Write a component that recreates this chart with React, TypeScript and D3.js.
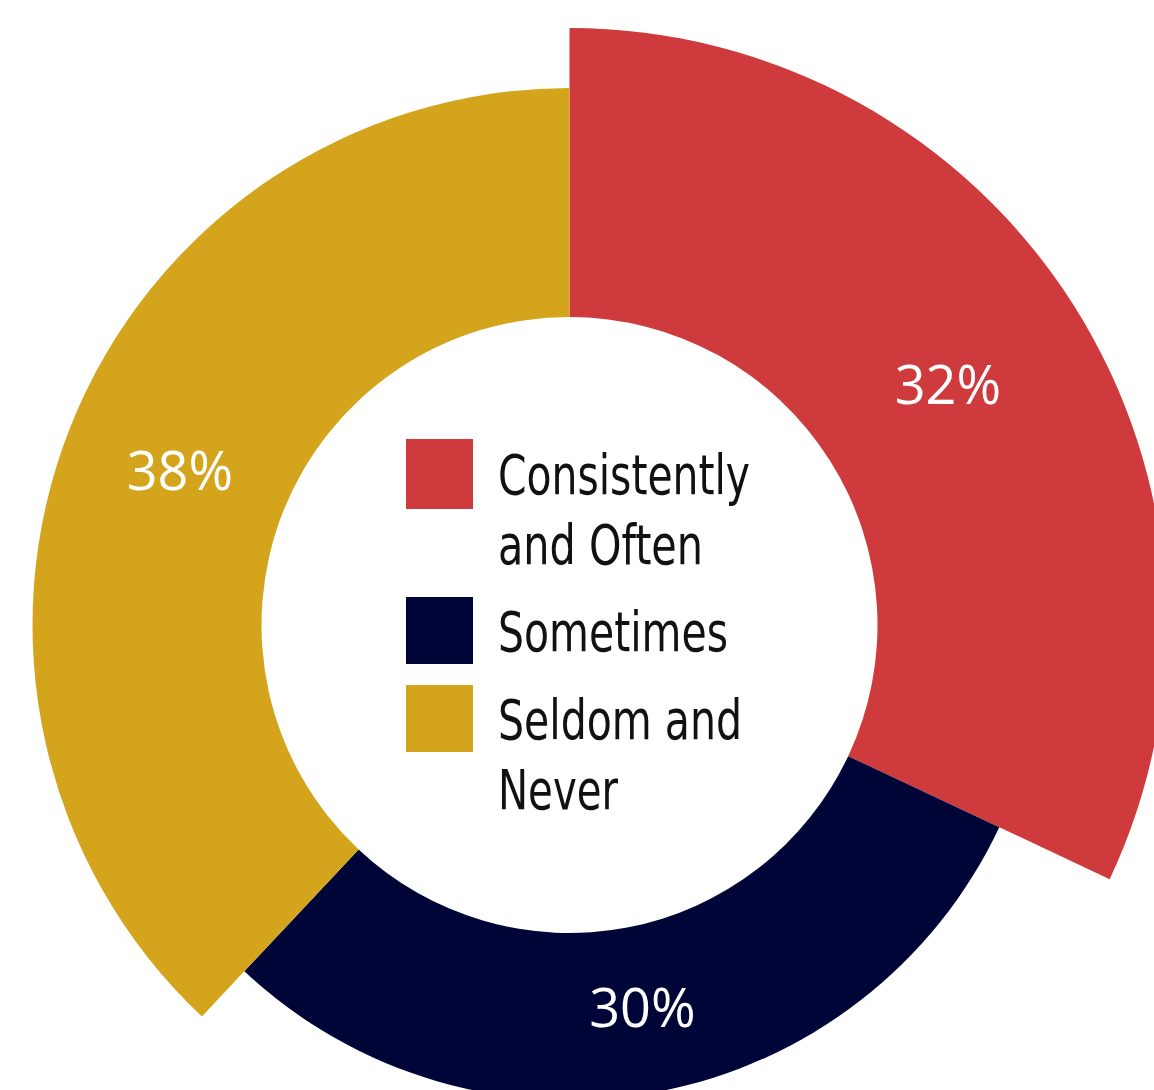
import React from "react";
import * as d3 from "d3";

const categories = ["Consistently and Often", "Sometimes", "Seldom and Never"];
const values = [32, 30, 38];
const labels = ["32%", "30%", "38%"];
const colors = ["#CF3A3D", "#000538", "#D3A41C"];
const legendLines = [["Consistently", "and Often"], ["Sometimes"], ["Seldom and", "Never"]];

const W = 1154;
const H = 1090;
const cx = 569.5;
const cy = 625;
const innerR = 308;
const outerRs = [597, 475, 537];

export default function App() {
  const pie = d3.pie<number>().sort(null).value((d) => d);
  const arcs = pie(values);
  const legendY = [439, 597, 685];
  const legendH = [70, 67, 67];
  const lineBase = [[494, 564], [651], [739, 809]];
  const lineW = [[252, 205], [230], [244, 120]];
  return (
    <svg
      width={W}
      height={H}
      style={{ position: "absolute", left: 0, top: 0, display: "block" }}
    >
      <rect width={W} height={H} fill="#ffffff" />
      <g transform={`translate(${cx},${cy})`}>
        {arcs.map((a, i) => {
          const gen = d3.arc<d3.PieArcDatum<number>>().innerRadius(innerR).outerRadius(outerRs[i]);
          const lr = innerR + (outerRs[i] - innerR) * 0.485;
          const labelArc = d3.arc<d3.PieArcDatum<number>>().innerRadius(lr).outerRadius(lr);
          const [lx, ly] = labelArc.centroid(a);
          return (
            <g key={categories[i]}>
              <path d={gen(a) || ""} fill={colors[i]} />
              <text
                x={lx}
                y={ly}
                dy="0.36em"
                textAnchor="middle"
                fill="#ffffff"
                fontFamily="'Open Sans', Lato, sans-serif"
                fontSize={54}
                fontWeight={400}
              >
                {labels[i]}
              </text>
            </g>
          );
        })}
      </g>
      <g>
        {categories.map((c, i) => (
          <g key={c}>
            <rect x={406} y={legendY[i]} width={67} height={legendH[i]} fill={colors[i]} />
            {legendLines[i].map((t, j) => (
              <text
                key={t}
                x={498}
                y={lineBase[i][j]}
                fill="#111111"
                fontFamily="'Liberation Sans Narrow', 'DejaVu Sans Condensed', sans-serif"
                fontSize={56}
                fontWeight={400}
                textLength={lineW[i][j]}
                lengthAdjust="spacingAndGlyphs"
              >
                {t}
              </text>
            ))}
          </g>
        ))}
      </g>
    </svg>
  );
}
